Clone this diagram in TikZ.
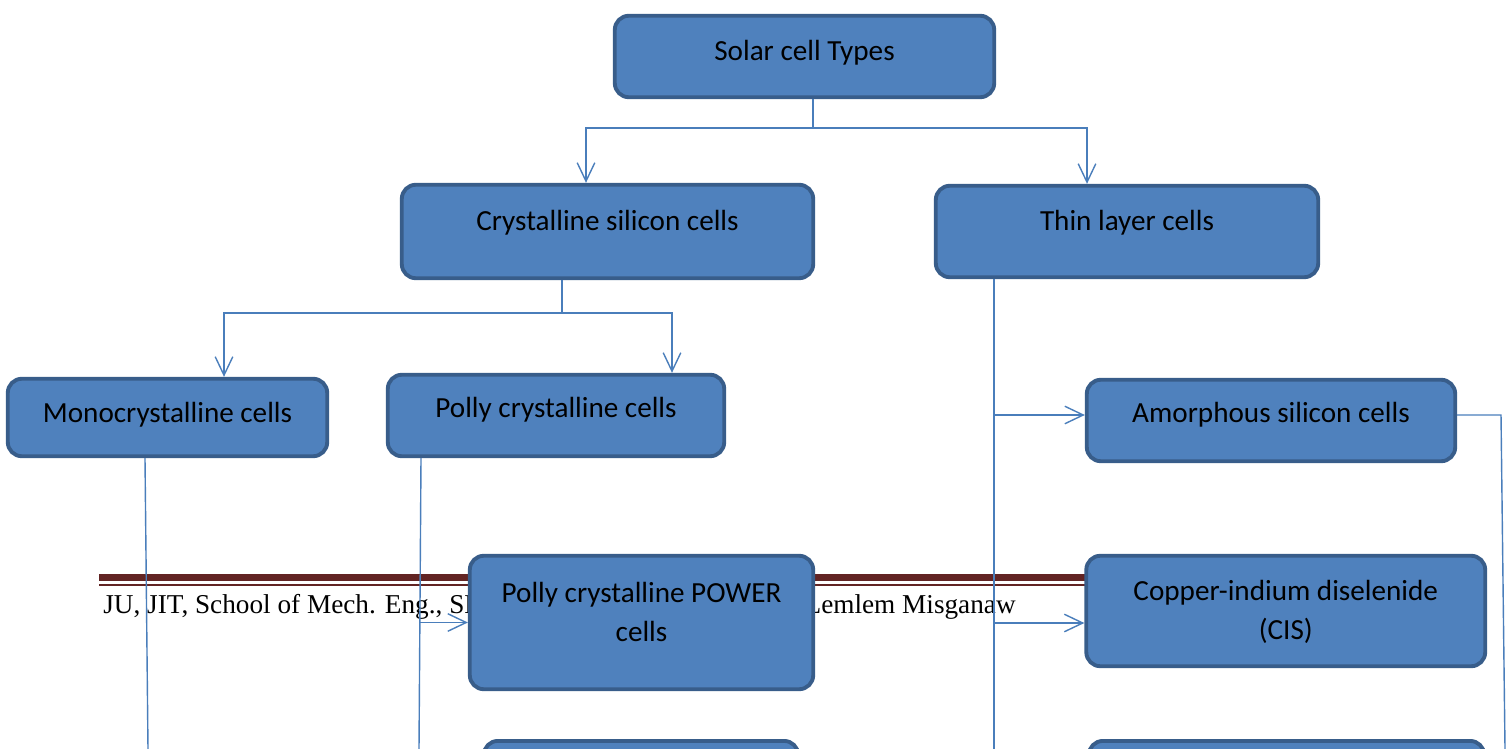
\documentclass[tikz,border=0pt]{standalone}
\usepackage{fontspec}
\setmainfont{Carlito}
\newfontfamily\footfont{Liberation Serif}
\usetikzlibrary{arrows.meta}
\definecolor{cellfill}{HTML}{4F81BD}
\definecolor{celledge}{HTML}{385D8A}
\definecolor{linkblue}{HTML}{4A7EBB}
\definecolor{footred}{HTML}{622423}
\begin{document}
\begin{tikzpicture}[x=.02cm,y=-.02cm,
	cell/.style={draw=celledge,fill=cellfill,line width=2.2pt,rounded corners=8pt,align=center,inner sep=0pt,text height=12pt,font=\fontsize{16.6}{22.7}\selectfont},
	link/.style={draw=linkblue,line width=.8pt},
	arrowlink/.style={link,-{Straight Barb[length=10.5pt,width=10pt]}}]
			\useasboundingbox (0,0) rectangle (1507,749);
			\clip (0,0) rectangle (1507,749);
			%pie%
			\draw [footred,line width=4pt] (99,577.5)--(1300,577.5);
			\draw [footred,line width=.85pt] (99,585)--(1300,585);
			\node [font=\footfont\fontsize{15.5}{18}\selectfont,anchor=base west,inner sep=0pt] (footleft) at (103,613) {JU, JIT, School of Mech. Eng., SE};
			\node [font=\footfont\fontsize{15.5}{18}\selectfont,anchor=base east,inner sep=0pt] (footright) at (1016,613) {Lemlem Misganaw};
			%cajas%
			\node [cell,minimum width=7.59cm,minimum height=1.63cm,text depth=8pt] (types) at (804.5,56.5) {Solar cell Types};
			\node [cell,minimum width=8.23cm,minimum height=1.87cm,text depth=13.7pt] (crys) at (607.5,231.5) {Crystalline silicon cells};
			\node [cell,minimum width=7.65cm,minimum height=1.83cm,text depth=13.7pt] (thin) at (1127,231.5) {Thin layer cells};
			\node [cell,minimum width=6.39cm,minimum height=1.55cm,text depth=5.8pt] (mono) at (167.5,417.5) {Monocrystalline cells};
			\node [cell,minimum width=6.73cm,minimum height=1.63cm,text depth=9.2pt] (polly) at (556,415.5) {Polly crystalline cells};
			\node [cell,minimum width=7.37cm,minimum height=1.63cm,text depth=9.2pt] (amor) at (1271,420.5) {Amorphous silicon cells};
			\node [cell,minimum width=6.87cm,minimum height=2.67cm,text height=28.1pt,text depth=6pt] (power) at (641.5,622.5) {Polly crystalline POWER\\cells};
			\node [cell,minimum width=7.98cm,minimum height=2.21cm,text height=38.9pt,text depth=6pt] (cis) at (1285.75,611) {Copper-indium diselenide\\(CIS)};
			\node [cell,minimum width=6.29cm,minimum height=2cm,anchor=north] (pollynext) at (641,739) {};
			\node [cell,minimum width=7.91cm,minimum height=2cm,anchor=north] (thinnext) at (1286.5,739) {};
			%flechas%
			\coordinate (topfork) at (813,128);
			\coordinate (crysfork) at (562,313);
			\coordinate (monoend) at (148,749);
			\coordinate (pollyend) at (419,749);
			\coordinate (thinend) at (994,749);
			\coordinate (amorend) at (1505,749);
			\draw [link] (topfork |- types.south)--(topfork);
			\draw [arrowlink] (topfork) -| (586,0 |- crys.north);
			\draw [arrowlink] (topfork) -| (1087,0 |- thin.north);
			\draw [link] (crysfork |- crys.south)--(crysfork);
			\draw [arrowlink] (crysfork) -| (224,0 |- mono.north);
			\draw [arrowlink] (crysfork) -| (672,0 |- polly.north);
			\draw [link] (145,0 |- mono.south)--(monoend);
			\draw [link] (421,0 |- polly.south)--(pollyend);
			\draw [arrowlink] (420,0 |- power.west)--(power.west);
			\draw [link] (thinend |- thin.south)--(thinend);
			\draw [arrowlink] (thinend |- 0,415)--(amor.west |- 0,415);
			\draw [arrowlink] (thinend |- 0,623)--(cis.west |- 0,623);
			\draw [link] (amor.east |- 0,415)--(1501,415)--(amorend);
\end{tikzpicture}
\end{document}
